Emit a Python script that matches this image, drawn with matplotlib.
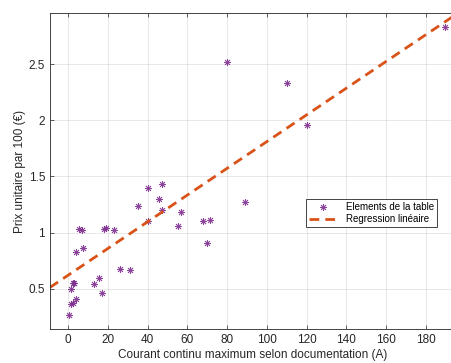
import numpy as np
import matplotlib.pyplot as plt

plt.rcParams['font.family'] = ['Liberation Sans', 'DejaVu Sans']

# Valeurs
courant = [0.5, 1.4, 2.2, 3.7, 1.4, 2.4, 2.8, 3.9, 5.4, 6.7, 7.6,
           12.9, 15.5, 17.0, 18.0, 18.8, 22.8, 25.9, 31.1, 34.9,
           40.0, 40.0, 45.8, 47.0, 47.0, 55.1, 57.0, 67.8, 71.2, 70.0,
           89.1, 80.0, 110.1, 120.0, 189.8]
prix = [0.265, 0.36, 0.375, 0.405, 0.5, 0.55, 0.55, 0.825, 1.03, 1.02, 0.866,
        0.545, 0.595, 0.46, 1.03, 1.04, 1.02, 0.676, 0.667, 1.238,
        1.396, 1.107, 1.30, 1.435, 1.2, 1.055, 1.18, 1.107, 1.113, 0.908,
        1.274, 2.52, 2.334, 1.955, 2.83]

# regression lineaire (coefficients lus)
pente = 0.0119
ordonnee = 0.62

x_lim = (-9.2, 195)
y_lim = (0.14, 2.955)
x_ticks = list(range(0, 200, 20))
y_ticks = [0.5, 1, 1.5, 2, 2.5]

violet = (0.494, 0.184, 0.556)
orange = (0.85, 0.325, 0.098)
gris = (0.15, 0.15, 0.15)

fig = plt.figure(figsize=(4.52, 3.63), dpi=100)
ax = fig.add_axes([0.1106, 0.0937, 0.897, 0.870])

# asterisque facon matlab (+ et x)
ax.plot(courant, prix, linestyle='none', marker=(8, 2, 0), markersize=5,
        color=violet, markeredgewidth=0.6, alpha=0.9,
        label='Elements de la table')
xr = np.array(x_lim)
ax.plot(xr, ordonnee + pente * xr, linestyle=(0, (3.5, 2.2)), linewidth=2,
        color=orange, label='Regression linéaire')

ax.set_xlim(x_lim)
ax.set_ylim(y_lim)
ax.set_xticks(x_ticks)
ax.set_yticks(y_ticks)
ax.set_yticklabels(['0.5', '1', '1.5', '2', '2.5'])
ax.grid(True, color=(0.15, 0.15, 0.15), alpha=0.12, linewidth=0.6)
ax.tick_params(direction='in', length=3, width=0.5, colors=gris,
               labelsize=8.5, top=True, right=True)
for s in ax.spines.values():
    s.set_color(gris)
    s.set_linewidth(0.6)

ax.set_xlabel('Courant continu maximum selon documentation (A)', fontsize=8.5,
              color=gris, labelpad=2)
ax.set_ylabel('Prix unitaire par 100 (€)', fontsize=8.5, color=gris,
              labelpad=2)

leg = ax.legend(loc='upper left', bbox_to_anchor=(0.631, 0.411), fontsize=7,
                fancybox=False, framealpha=1, edgecolor=gris,
                borderpad=0.3, handlelength=3, labelspacing=0.2,
                borderaxespad=0)
leg.get_frame().set_linewidth(0.6)

fig.savefig('out.png', dpi=100)
